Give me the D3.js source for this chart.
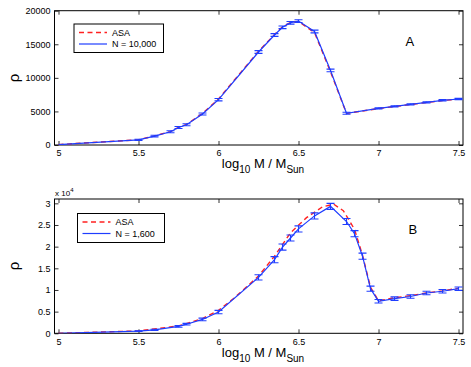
<!DOCTYPE html>
<html><head><meta charset="utf-8">
<script src="https://cdn.jsdelivr.net/npm/d3@7"></script>
<style>body{margin:0;background:#fff}svg{display:block;font-family:"Liberation Sans",Arial,Helvetica,sans-serif}</style>
</head><body>
<svg id="c" width="471" height="367"></svg>
<script>
// Panel A data
const aBlueX = [5.0, 5.5, 5.6, 5.7, 5.75, 5.8, 5.9, 6.0, 6.25, 6.35, 6.4, 6.45, 6.5, 6.6, 6.7, 6.8, 7.0, 7.1, 7.2, 7.3, 7.4, 7.5];
const aBlueY = [50, 760, 1330, 1980, 2600, 3020, 4620, 6750, 13850, 16380, 17530, 18200, 18450, 16900, 11100, 4720, 5450, 5750, 6050, 6350, 6650, 6850];
const aBlueErr = [0, 100, 120, 150, 150, 150, 150, 180, 200, 200, 200, 200, 200, 200, 200, 150, 100, 100, 100, 100, 100, 100];
const aRedX = [5.0, 5.5, 5.6, 5.7, 5.75, 5.8, 5.9, 6.0, 6.25, 6.35, 6.4, 6.45, 6.5, 6.6, 6.7, 6.8, 7.0, 7.1, 7.2, 7.3, 7.4, 7.5];
const aRedY = [60, 780, 1350, 2000, 2620, 3060, 4700, 6850, 13950, 16450, 17600, 18250, 18400, 16750, 10900, 4700, 5420, 5730, 6030, 6330, 6630, 6830];
// Panel B data
const bBlueX = [5.0, 5.5, 5.6, 5.75, 5.8, 5.9, 6.0, 6.25, 6.35, 6.4, 6.45, 6.5, 6.6, 6.7, 6.8, 6.85, 6.9, 6.95, 7.0, 7.1, 7.2, 7.3, 7.4, 7.5];
const bBlueY = [0, 500, 800, 1600, 2100, 3200, 4900, 12900, 17000, 19900, 22000, 24100, 27100, 29300, 25800, 23000, 17800, 10300, 7400, 8000, 8500, 9300, 9700, 10300];
const bBlueErr = [0, 100, 150, 200, 200, 300, 400, 600, 700, 700, 700, 700, 700, 700, 700, 700, 700, 600, 400, 400, 400, 400, 400, 400];
const bRedX = [5.0, 5.5, 5.75, 5.9, 6.0, 6.1, 6.25, 6.35, 6.45, 6.55, 6.65, 6.72, 6.78, 6.85, 6.9, 6.95, 7.0, 7.1, 7.2, 7.3, 7.4, 7.5];
const bRedY = [0, 550, 1700, 3400, 5300, 8200, 13200, 17800, 23200, 26700, 29200, 29800, 28300, 24000, 18000, 10600, 7500, 8200, 8700, 9300, 9800, 10400];
// ticks
const xTicks = [5, 5.5, 6, 6.5, 7, 7.5];
const xTickLabels = ["5", "5.5", "6", "6.5", "7", "7.5"];
const aYTicks = [0, 5000, 10000, 15000, 20000];
const bYTicks = [0, 5000, 10000, 15000, 20000, 25000, 30000];
const bYTickLabels = ["0", "0.5", "1", "1.5", "2", "2.5", "3"];
const legendA = ["ASA", "N = 10,000"];
const legendB = ["ASA", "N = 1,600"];

const svg = d3.select("#c");
const blue = "#1f3dff", red = "#ff2020";

function panel(cfg) {
  const x = d3.scaleLinear().domain([4.975, 7.528]).range([54.5, 463]);
  const y = d3.scaleLinear().domain(cfg.yDomain).range([cfg.bottom, cfg.top]);
  const g = svg.append("g");
  const L = 54.5, R = 463, T = cfg.top, B = cfg.bottom;
  const tl = 4;
  const fmt = (d, i) => cfg.yLabels ? cfg.yLabels[i] : String(d);
  const ax = g.append("g").attr("transform", `translate(0,${B})`)
    .call(d3.axisBottom(x).tickValues(xTicks).tickFormat((d, i) => xTickLabels[i]).tickSizeInner(-tl).tickSizeOuter(0).tickPadding(5));
  const axT = g.append("g").attr("transform", `translate(0,${T})`)
    .call(d3.axisTop(x).tickValues(xTicks).tickFormat("").tickSizeInner(-tl).tickSizeOuter(0));
  const ay = g.append("g").attr("transform", `translate(${L},0)`)
    .call(d3.axisLeft(y).tickValues(cfg.yTicks).tickFormat(fmt).tickSizeInner(-tl).tickSizeOuter(0).tickPadding(4));
  const ayR = g.append("g").attr("transform", `translate(${R},0)`)
    .call(d3.axisRight(y).tickValues(cfg.yTicks).tickFormat("").tickSizeInner(-tl).tickSizeOuter(0));
  [ax, axT, ay, ayR].forEach(a => {
    a.select(".domain").remove();
    a.selectAll("line").attr("stroke", "#000").attr("stroke-width", 0.8);
    a.selectAll("text").attr("font-size", 9).attr("fill", "#000").attr("font-family", "Liberation Sans, Arial, sans-serif");
  });
  g.append("rect").attr("x", L).attr("y", T).attr("width", R - L).attr("height", B - T)
    .attr("fill", "none").attr("stroke", "#000").attr("stroke-width", 1);

  const line = d3.line().x(d => x(d[0])).y(d => y(d[1]));
  const redPts = cfg.redX.map((v, i) => [v, cfg.redY[i]]);
  const bluePts = cfg.blueX.map((v, i) => [v, cfg.blueY[i]]);
  const clip = "clip" + cfg.id;
  g.append("clipPath").attr("id", clip).append("rect").attr("x", L).attr("y", T).attr("width", R - L).attr("height", B - T);
  const plot = g.append("g").attr("clip-path", `url(#${clip})`);
  plot.append("path").datum(redPts).attr("d", line).attr("fill", "none").attr("stroke", red)
    .attr("stroke-width", 1.4).attr("stroke-dasharray", "5,3.5");
  plot.append("path").datum(bluePts).attr("d", line).attr("fill", "none").attr("stroke", blue).attr("stroke-width", 1.2);
  const eb = plot.append("g").attr("stroke", blue).attr("stroke-width", 1.1);
  cfg.blueX.forEach((xv, i) => {
    const e = cfg.blueErr[i];
    if (!e) return;
    const px = x(xv), y1 = y(cfg.blueY[i] - e), y2 = y(cfg.blueY[i] + e);
    eb.append("line").attr("x1", px).attr("x2", px).attr("y1", y1).attr("y2", y2);
    eb.append("line").attr("x1", px - 4).attr("x2", px + 4).attr("y1", y1).attr("y2", y1);
    eb.append("line").attr("x1", px - 4).attr("x2", px + 4).attr("y1", y2).attr("y2", y2);
  });
  const lg = cfg.legend;
  g.append("rect").attr("x", lg.x).attr("y", lg.y).attr("width", lg.w).attr("height", lg.h)
    .attr("fill", "#fff").attr("stroke", "#000").attr("stroke-width", 1);
  g.append("line").attr("x1", lg.x + 5).attr("x2", lg.x + 33).attr("y1", lg.y + 8.5).attr("y2", lg.y + 8.5)
    .attr("stroke", red).attr("stroke-width", 1.4).attr("stroke-dasharray", "5,3.5");
  g.append("line").attr("x1", lg.x + 5).attr("x2", lg.x + 33).attr("y1", lg.y + 20).attr("y2", lg.y + 20)
    .attr("stroke", blue).attr("stroke-width", 1.2);
  g.append("text").attr("x", lg.x + 38).attr("y", lg.y + 11.5).attr("font-size", 9).text(lg.labels[0]);
  g.append("text").attr("x", lg.x + 38).attr("y", lg.y + 23).attr("font-size", 9).text(lg.labels[1]);
  g.append("text").attr("x", cfg.letterX).attr("y", cfg.letterY).attr("font-size", 13).text(cfg.letter);
  g.append("text").attr("transform", `translate(${cfg.rhoX},${cfg.rhoY}) rotate(-90)`)
    .attr("text-anchor", "middle").attr("font-size", 15).text("ρ");
  const xl = g.append("text").attr("x", 263).attr("y", cfg.xlabY).attr("text-anchor", "middle").attr("font-size", 13);
  xl.append("tspan").text("log");
  xl.append("tspan").attr("dy", 5).attr("font-size", 10).text("10");
  xl.append("tspan").attr("dy", -5).text(" M / M");
  xl.append("tspan").attr("dy", 5).attr("font-size", 10).text("Sun");
}

panel({
  id: "A", top: 10.7, bottom: 145, yDomain: [0, 20000], yTicks: aYTicks,
  blueX: aBlueX, blueY: aBlueY, blueErr: aBlueErr, redX: aRedX, redY: aRedY,
  legend: { x: 74, y: 24, w: 89.5, h: 28.5, labels: legendA },
  letter: "A", letterX: 405.5, letterY: 46, rhoX: 19, rhoY: 78, xlabY: 168
});
panel({
  id: "B", top: 199, bottom: 333.3, yDomain: [0, 31000], yTicks: bYTicks, yLabels: bYTickLabels,
  blueX: bBlueX, blueY: bBlueY, blueErr: bBlueErr, redX: bRedX, redY: bRedY,
  legend: { x: 77.5, y: 213.5, w: 87, h: 29, labels: legendB },
  letter: "B", letterX: 408.5, letterY: 233.5, rhoX: 19, rhoY: 266, xlabY: 357
});
const m = svg.append("text").attr("x", 55).attr("y", 195.5).attr("font-size", 8);
m.append("tspan").text("x 10");
m.append("tspan").attr("dy", -4).attr("font-size", 6).text("4");
</script>
</body></html>
